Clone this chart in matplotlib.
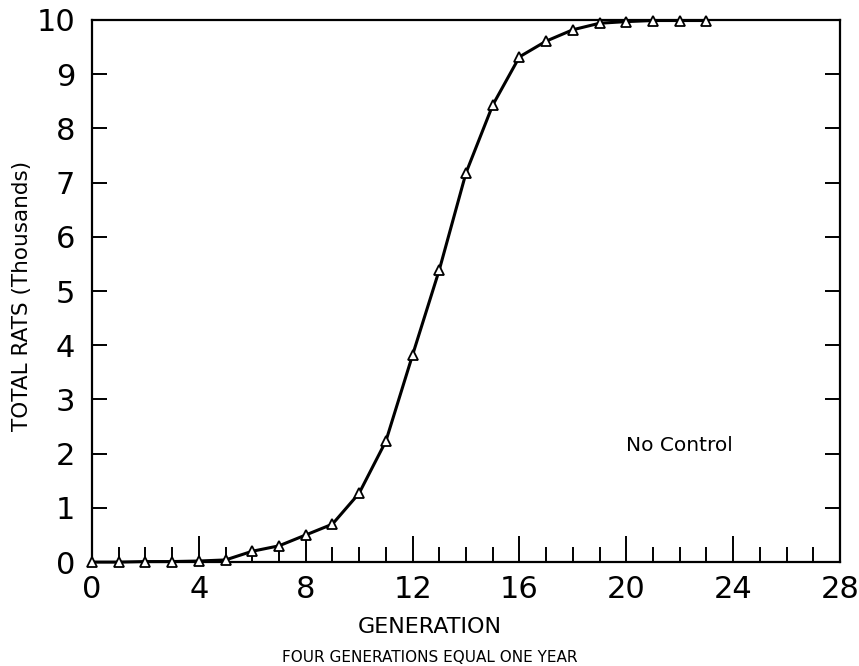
import numpy as np
import matplotlib
matplotlib.use("Agg")
import matplotlib.pyplot as plt
from matplotlib.ticker import MultipleLocator

plt.rcParams['font.family'] = ['DejaVu Sans']

# generation vs total rats (thousands), no control
generation = [0, 1, 2, 3, 4, 5, 6, 7, 8, 9, 10, 11, 12, 13, 14, 15, 16,
              17, 18, 19, 20, 21, 22, 23]
total_rats = [0.0, 0.0, 0.01, 0.01, 0.02, 0.04, 0.2, 0.3, 0.5, 0.7, 1.27,
              2.23, 3.82, 5.39, 7.18, 8.43, 9.32, 9.61, 9.82, 9.94, 9.97,
              9.99, 9.99, 9.99]

x_ticks = [0, 4, 8, 12, 16, 20, 24, 28]
y_ticks = [0, 1, 2, 3, 4, 5, 6, 7, 8, 9, 10]

fig = plt.figure(figsize=(8.59, 6.66), dpi=100)
ax = fig.add_axes([0.107, 0.156, 0.871, 0.814])

ax.plot(generation, total_rats, color='black', linewidth=2.2,
        marker='^', markersize=7, markerfacecolor='white',
        markeredgecolor='black', markeredgewidth=1.3, clip_on=False, zorder=3)

ax.set_xlim(0, 28)
ax.set_ylim(0, 10)
ax.set_xticks(x_ticks)
ax.set_yticks(y_ticks)
ax.xaxis.set_minor_locator(MultipleLocator(1))

for s in ax.spines.values():
    s.set_linewidth(1.6)

ax.tick_params(axis='x', which='major', direction='in', length=19, width=1.4,
               labelsize=22, pad=9, top=False)
ax.tick_params(axis='x', which='minor', direction='in', length=11, width=1.4, top=False)
ax.tick_params(axis='y', which='major', direction='in', length=11, width=1.4,
               labelsize=22, pad=12, right=True)

fig.text(0.5, 0.059, 'GENERATION', ha='center', va='center', fontsize=16)
fig.text(0.0256, 0.555, 'TOTAL RATS (Thousands)', ha='center', va='center',
         rotation=90, fontsize=15.5)
fig.text(0.5, 0.013, 'FOUR GENERATIONS EQUAL ONE YEAR', ha='center',
         va='center', fontsize=11)

ax.text(20.0, 2.15, 'No Control', fontsize=14.5, va='center', ha='left')

fig.savefig('out.png', dpi=100)
